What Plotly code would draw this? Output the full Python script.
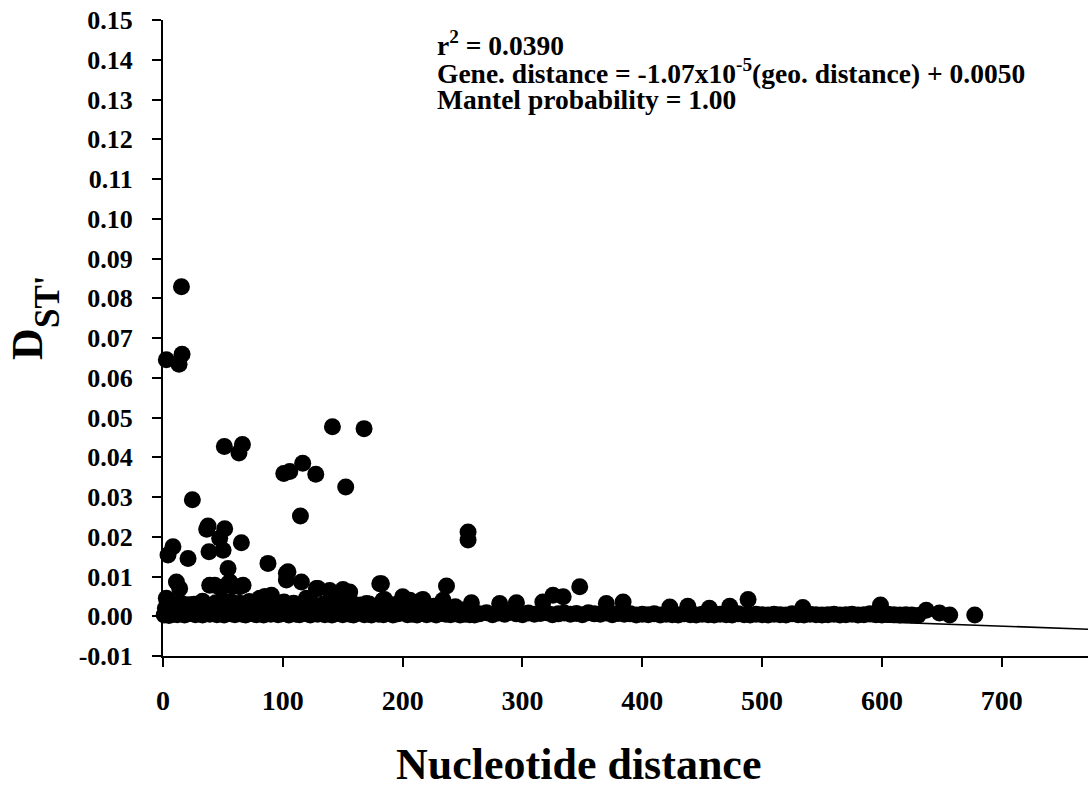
import plotly.graph_objects as go

# Pairwise comparisons: nucleotide distance vs. D_ST'
# Scattered higher values
hi_x = [2.8, 13.4, 15.9, 15.4, 141.4, 167.8, 51.2, 66.3, 63.4, 100.8, 105.8, 116.6,
        127.5, 152.5, 24.5, 114.7, 37.6, 36.5, 51.5, 47.3, 38.4, 50.1, 65.4, 4.2,
        8.3, 20.9, 54.3, 87.6, 254.6, 254.6]
hi_y = [0.0645, 0.0634, 0.0659, 0.0829, 0.0477, 0.0472, 0.0427, 0.0432, 0.0411,
        0.0359, 0.0364, 0.0385, 0.0357, 0.0325, 0.0293, 0.0252, 0.0227, 0.0219,
        0.0220, 0.0196, 0.0162, 0.0166, 0.0185, 0.0154, 0.0175, 0.0145, 0.0120,
        0.0133, 0.0212, 0.0192]

# Values just above the baseline
mid_x = [11.2, 13.9, 104.3, 115.5, 103.0, 180.9, 236.6, 347.8, 129.4, 139.1, 150.2,
         43.2, 64.0, 54.3, 58.0, 48.0, 2.8, 185.0, 206.0, 215.7, 233.7, 257.4,
         169.8, 84.9, 119.7, 90.0, 200.0, 217.0, 325.5, 334.0, 370.0, 384.0, 281.0,
         295.0, 317.0, 488.3, 473.0, 438.0, 534.0, 598.8, 423.0, 456.0, 637.0,
         648.0, 656.6, 677.5, 4.2, 39.0, 55.8, 66.8, 85.0, 103.0, 128.0, 155.8,
         182.3, 183.6, 90.5, 80.7, 22.3]
mid_y = [0.0086, 0.0070, 0.0112, 0.0086, 0.0091, 0.0082, 0.0076, 0.0074, 0.0070,
         0.0065, 0.0067, 0.0078, 0.0074, 0.0082, 0.0075, 0.0072, 0.0045, 0.0042,
         0.0040, 0.0040, 0.0040, 0.0034, 0.0032, 0.0049, 0.0045, 0.0045, 0.0049,
         0.0042, 0.0053, 0.0049, 0.0032, 0.0036, 0.0032, 0.0034, 0.0036, 0.0042,
         0.0025, 0.0025, 0.0022, 0.0028, 0.0023, 0.0020, 0.0015, 0.0008, 0.0003,
         0.0003, 0.0040, 0.0078, 0.0086, 0.0078, 0.0049, 0.0108, 0.0070, 0.0061,
         0.0082, 0.0040, 0.0053, 0.0045, 0.0028]

# Dense baseline, short distances
low1_x = [1, 3, 5, 7, 9, 12, 15, 18, 21, 24, 27, 30, 33, 36, 39, 42, 45, 48, 51, 54,
          57, 60, 63, 66, 69, 72, 75, 78, 81, 84, 87, 90, 93, 96, 99, 102, 105, 108,
          111, 114, 117, 120, 123, 126, 129, 132, 135, 138, 141, 144, 147, 150, 153,
          156, 159, 162, 165, 168, 171, 174, 177, 180, 184, 188, 192, 196, 200, 204,
          208, 212, 216, 220, 224, 228, 232, 236, 240, 244, 248, 252, 256, 260]
low1_y = [0.0003, 0.0008, 0.0002, 0.0010, 0.0005, 0.0004, 0.0009, 0.0003, 0.0006, 0.0011,
          0.0004, 0.0007, 0.0003, 0.0009, 0.0005, 0.0012, 0.0004, 0.0008, 0.0003, 0.0010,
          0.0006, 0.0004, 0.0011, 0.0005, 0.0003, 0.0008, 0.0006, 0.0004, 0.0010, 0.0003,
          0.0007, 0.0005, 0.0009, 0.0004, 0.0006, 0.0011, 0.0003, 0.0008, 0.0005, 0.0004,
          0.0010, 0.0006, 0.0003, 0.0009, 0.0005, 0.0007, 0.0004, 0.0011, 0.0003, 0.0006,
          0.0008, 0.0004, 0.0010, 0.0005, 0.0003, 0.0007, 0.0009, 0.0004, 0.0006, 0.0003,
          0.0008, 0.0005, 0.0004, 0.0007, 0.0003, 0.0006, 0.0009, 0.0004, 0.0005, 0.0003,
          0.0008, 0.0004, 0.0006, 0.0003, 0.0007, 0.0005, 0.0004, 0.0006, 0.0003, 0.0005,
          0.0004, 0.0003]

low2_x = [2, 6, 10, 17, 22, 28, 34, 41, 46, 53, 59, 62, 70, 76, 82, 88, 95, 99, 107, 112,
          119, 125, 133, 137, 145, 152, 160, 166, 174, 178, 190, 198, 210, 222, 240, 250]
low2_y = [0.0020, 0.0024, 0.0018, 0.0022, 0.0015, 0.0025, 0.0019, 0.0023, 0.0021, 0.0017,
          0.0025, 0.0020, 0.0022, 0.0016, 0.0024, 0.0019, 0.0023, 0.0021, 0.0018, 0.0025,
          0.0020, 0.0016, 0.0022, 0.0019, 0.0024, 0.0017, 0.0021, 0.0015, 0.0020, 0.0023,
          0.0016, 0.0018, 0.0015, 0.0017, 0.0014, 0.0016]

low4_x = [4, 14, 26, 33, 44, 50, 57, 64, 72, 79, 86, 94, 101, 109, 117, 124, 134, 143,
          150, 158, 165, 172, 186, 193, 204, 214, 226, 244]
low4_y = [0.0032, 0.0035, 0.0030, 0.0038, 0.0034, 0.0040, 0.0036, 0.0033, 0.0037, 0.0031,
          0.0035, 0.0030, 0.0036, 0.0033, 0.0029, 0.0034, 0.0031, 0.0035, 0.0030, 0.0033,
          0.0028, 0.0031, 0.0027, 0.0029, 0.0026, 0.0028, 0.0025, 0.0024]

# Dense baseline, long distances
low3_x = [264, 270, 275, 280, 285, 290, 295, 300, 305, 310, 315, 320, 325, 330, 335, 340,
          345, 350, 355, 360, 365, 370, 375, 380, 385, 390, 395, 400, 405, 410, 415, 420,
          425, 430, 435, 440, 445, 450, 455, 460, 465, 470, 475, 480, 485, 490, 495, 500,
          505, 510, 515, 520, 525, 530, 535, 540, 545, 550, 555, 560, 565, 570, 575, 580,
          585, 590, 595, 600, 605, 610, 615, 620, 625, 630]
low3_y = [0.0006, 0.0009, 0.0004, 0.0008, 0.0005, 0.0010, 0.0006, 0.0004, 0.0008, 0.0005,
          0.0007, 0.0009, 0.0004, 0.0006, 0.0008, 0.0005, 0.0007, 0.0004, 0.0009, 0.0006,
          0.0005, 0.0008, 0.0004, 0.0007, 0.0005, 0.0006, 0.0003, 0.0005, 0.0004, 0.0006,
          0.0003, 0.0005, 0.0004, 0.0003, 0.0006, 0.0004, 0.0003, 0.0005, 0.0004, 0.0003,
          0.0005, 0.0004, 0.0003, 0.0006, 0.0004, 0.0003, 0.0005, 0.0004, 0.0003, 0.0005,
          0.0004, 0.0003, 0.0006, 0.0004, 0.0003, 0.0005, 0.0004, 0.0003, 0.0004, 0.0005,
          0.0003, 0.0004, 0.0005, 0.0003, 0.0004, 0.0006, 0.0004, 0.0003, 0.0005, 0.0004,
          0.0003, 0.0004, 0.0003, 0.0002]

# Regression: gene distance = slope * geo distance + intercept
slope = -1.07e-5
intercept = 0.0050
x_max = 772

x_ticks = [0, 100, 200, 300, 400, 500, 600, 700]
y_ticks = [-0.01, 0.00, 0.01, 0.02, 0.03, 0.04, 0.05, 0.06, 0.07, 0.08, 0.09, 0.10,
           0.11, 0.12, 0.13, 0.14, 0.15]

FONT = "Liberation Serif"

all_x = low1_x + low2_x + low4_x + low3_x + mid_x + hi_x
all_y = low1_y + low2_y + low4_y + low3_y + mid_y + hi_y

fig = go.Figure()
fig.add_trace(go.Scatter(
    x=[0, x_max], y=[intercept, intercept + slope * x_max],
    mode="lines", line=dict(color="black", width=1.6), hoverinfo="skip",
))
fig.add_trace(go.Scatter(
    x=all_x, y=all_y, mode="markers", cliponaxis=False,
    marker=dict(color="black", size=17, line=dict(width=0)),
))

fig.update_layout(
    width=1088, height=785,
    margin=dict(l=163, r=0, t=20, b=129),
    paper_bgcolor="white", plot_bgcolor="white",
    showlegend=False,
    font=dict(family=FONT, color="black"),
)
fig.update_xaxes(
    range=[0, x_max], tickvals=x_ticks, ticktext=[str(v) for v in x_ticks],
    showgrid=False, zeroline=False, showline=True, linecolor="black", linewidth=2,
    ticks="outside", ticklen=9, tickwidth=1.5, tickcolor="black",
    tickfont=dict(family=FONT, size=28, color="black", weight="bold"),
    ticklabelstandoff=9,
)
fig.update_yaxes(
    range=[-0.01, 0.15], tickvals=y_ticks, ticktext=[f"{v:.2f}" for v in y_ticks],
    showgrid=False, zeroline=False, showline=True, linecolor="black", linewidth=2,
    ticks="outside", ticklen=9, tickwidth=1.5, tickcolor="black",
    tickfont=dict(family=FONT, size=26, color="black", weight="bold"),
    ticklabelstandoff=14,
)

# X axis title
fig.add_annotation(
    xref="paper", yref="paper", x=(578 - 163) / 925, y=-(764 - 656) / 636,
    xanchor="center", yanchor="middle", showarrow=False,
    text="<b>Nucleotide distance</b>", font=dict(family=FONT, size=44, color="black"),
)
# Y axis title: D with a lowered, smaller "ST'"
fig.add_annotation(
    xref="paper", yref="paper", x=(27 - 163) / 925, y=(656 - 344) / 636,
    xanchor="center", yanchor="middle", showarrow=False, textangle=-90,
    text="<b>D</b>", font=dict(family=FONT, size=44, color="black"),
)
fig.add_annotation(
    xref="paper", yref="paper", x=(47 - 163) / 925, y=(656 - 302) / 636,
    xanchor="center", yanchor="middle", showarrow=False, textangle=-90,
    text="<b>ST'</b>", font=dict(family=FONT, size=35, color="black"),
)

# Regression statistics
stats = [
    "<b>r<sup>2</sup> = 0.0390</b>",
    "<b>Gene. distance = -1.07x10<sup>-5</sup>(geo. distance) + 0.0050</b>",
    "<b>Mantel probability = 1.00</b>",
]
for i, line in enumerate(stats):
    fig.add_annotation(
        xref="paper", yref="paper", x=(435 - 163) / 925,
        y=1 - (44 + 28 * i - 20) / 636,
        xanchor="left", yanchor="middle", showarrow=False, align="left",
        text=line, font=dict(family=FONT, size=27.5, color="black"),
    )

fig.write_html("out.html")
